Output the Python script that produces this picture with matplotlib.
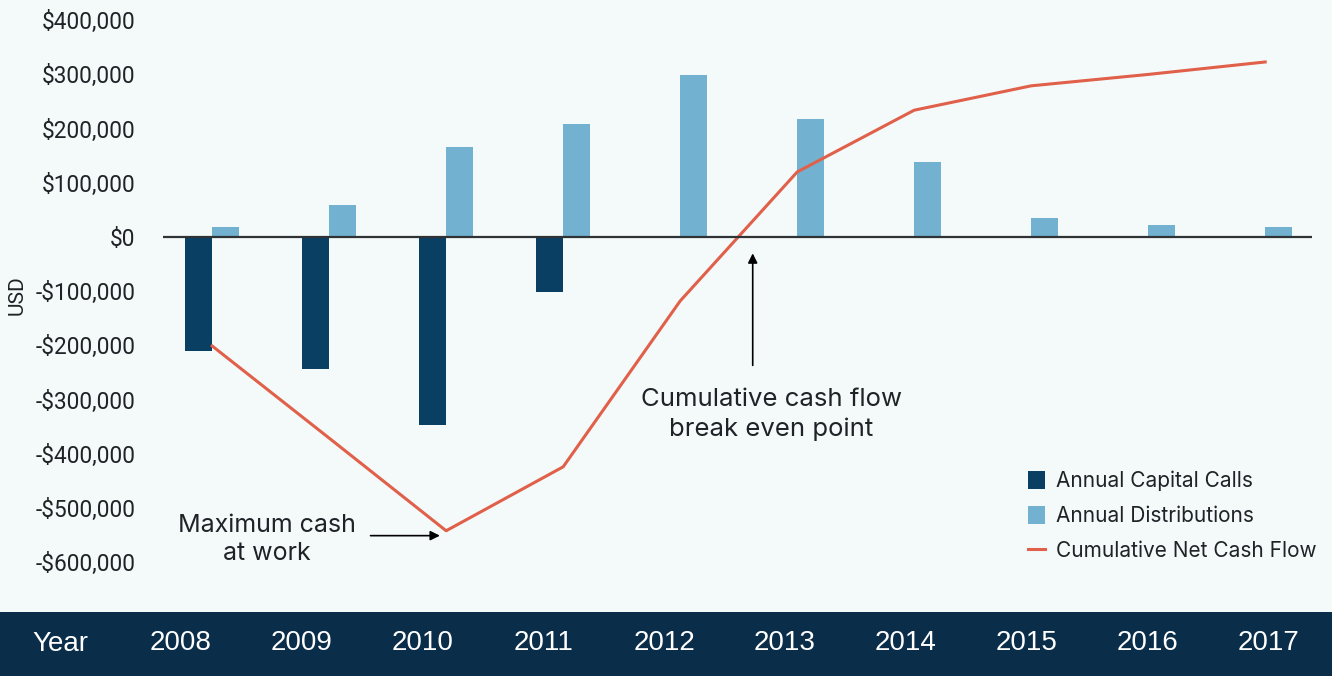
import matplotlib
matplotlib.use('Agg')
import matplotlib.pyplot as plt
import numpy as np
from matplotlib.ticker import FuncFormatter

# data
years = ['2008', '2009', '2010', '2011', '2012', '2013', '2014', '2015', '2016', '2017']
capital_calls = [-211000, -243000, -347000, -101000, 0, 0, 0, 0, 0, 0]
distributions = [18000, 59000, 166000, 208000, 299000, 218000, 138000, 35000, 22000, 18000]
cumulative_net = [-201000, -371000, -542000, -424000, -118000, 120000, 234000, 279000, 300000, 323000]
yticks = [400000, 300000, 200000, 100000, 0, -100000, -200000, -300000, -400000, -500000, -600000]

BG = '#f4fafa'
NAVY = '#083f63'
LIGHT = '#72b1cf'
RED = '#e0604a'
BAND = '#0a2d4a'
TXT = '#1f2328'

plt.rcParams['font.family'] = ['Inter', 'DejaVu Sans']

fig = plt.figure(figsize=(13.32, 6.76), dpi=100, facecolor=BG)
ax = fig.add_axes([163 / 1332, 1 - 589.3 / 676, (1312 - 163) / 1332, (589.3 - 9.4) / 676])
ax.set_facecolor(BG)

x = np.arange(len(years))
w = 0.23
ax.bar(x - w / 2, capital_calls, width=w, color=NAVY, label='Annual Capital Calls', zorder=2)
ax.bar(x + w / 2, distributions, width=w, color=LIGHT, label='Annual Distributions', zorder=2)
ax.plot(x, cumulative_net, color=RED, linewidth=2.2, label='Cumulative Net Cash Flow', zorder=3)
ax.axhline(0, color='#2f3336', linewidth=1.6, zorder=4)

ax.set_xlim(-0.42, 9.4)
ax.set_ylim(-650000, 420000)
ax.set_yticks(yticks)
ax.yaxis.set_major_formatter(FuncFormatter(lambda v, p: ('-$' if v < 0 else '$') + f'{abs(int(v)):,}'))
ax.tick_params(axis='y', length=0, pad=20, labelcolor=TXT)
for lab in ax.get_yticklabels():
    lab.set_fontfamily('Roboto')
    lab.set_fontsize(16.3)
ax.set_xticks([])
for s in ax.spines.values():
    s.set_visible(False)

fig.text(17 / 1332, 1 - 295 / 676, 'USD', rotation=90, ha='center', va='center', fontsize=15,
         color=TXT, family='Roboto')

# annotations
ax.annotate('', xy=(1.97, -551000), xytext=(1.33, -551000),
            arrowprops=dict(arrowstyle='-|>', color='black', lw=1.2, mutation_scale=14))
ax.text(0.47, -558000, 'Maximum cash\nat work', ha='center', va='center', fontsize=18,
        color=TXT, linespacing=1.3)
ax.annotate('', xy=(4.62, -25000), xytext=(4.62, -242000),
            arrowprops=dict(arrowstyle='-|>', color='black', lw=1.2, mutation_scale=14))
ax.text(4.78, -327000, 'Cumulative cash flow\nbreak even point', ha='center', va='center',
        fontsize=18.5, color=TXT, linespacing=1.35)

handles, labels = ax.get_legend_handles_labels()
order = [1, 2, 0]
leg = ax.legend([handles[i] for i in order], [labels[i] for i in order],
                loc='lower right', bbox_to_anchor=(1.02, 0.016), frameon=False, fontsize=15,
                handlelength=0.85, handleheight=0.9, handletextpad=0.5, labelspacing=0.72)
for t in leg.get_texts():
    t.set_color(TXT)

# year band at the bottom
band = fig.add_axes([0, 0, 1, 64 / 676])
band.set_facecolor(BAND)
band.set_xlim(0, 1332)
band.set_ylim(0, 1)
band.set_xticks([])
band.set_yticks([])
for s in band.spines.values():
    s.set_visible(False)
band.text(60, 0.5, 'Year', color='white', fontsize=20, ha='center', va='center',
          family='Liberation Sans')
for i, yr in enumerate(years):
    band.text(181 + i * 120.8, 0.52, yr, color='white', fontsize=20, ha='center', va='center',
              family='Liberation Sans')

fig.savefig('out.png', dpi=100, facecolor=BG)
